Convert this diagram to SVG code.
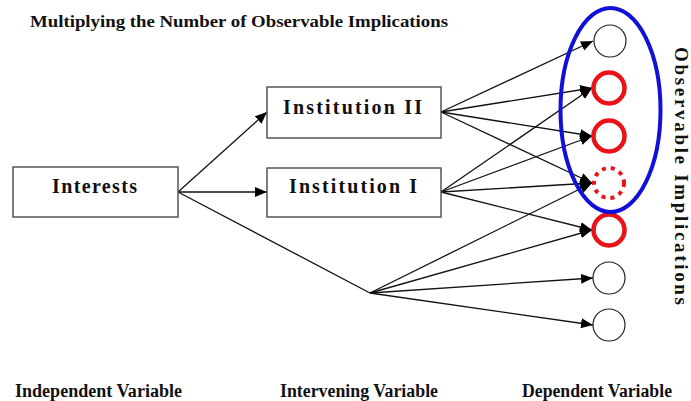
<svg xmlns="http://www.w3.org/2000/svg" width="691" height="401" viewBox="0 0 691 401">
<style>
.t{font-family:"Liberation Serif","Times New Roman",serif;font-weight:bold;fill:#111}
.box{fill:#fff;stroke:#555;stroke-width:1.5}
.ln{stroke:#111;stroke-width:1.3;fill:none}
.a{marker-end:url(#ah)}
.wc{fill:#fff;stroke:#222;stroke-width:1.2}
.rc{fill:#fff;stroke:#e8141a;stroke-width:4.5}
</style>
<defs>
<marker id="ah" markerUnits="userSpaceOnUse" markerWidth="13" markerHeight="11" refX="12" refY="5.5" orient="auto">
<path d="M0,0.5 L12,5.5 L0,10.5 Z" fill="#000"/>
</marker>
</defs>
<rect width="691" height="401" fill="#fff"/>
<text class="t" x="30" y="27" font-size="17.5" textLength="418" lengthAdjust="spacingAndGlyphs">Multiplying the Number of Observable Implications</text>
<g id="connectors">
<line class="ln a" x1="178" y1="192" x2="267" y2="112"/>
<line class="ln a" x1="178" y1="192" x2="267" y2="192"/>
<line class="ln" x1="178" y1="192" x2="370" y2="293"/>
<line class="ln a" x1="441" y1="112" x2="593" y2="41"/>
<line class="ln a" x1="441" y1="112" x2="592" y2="88"/>
<line class="ln a" x1="441" y1="112" x2="592" y2="136"/>
<line class="ln a" x1="441" y1="112" x2="592" y2="183"/>
<line class="ln a" x1="441" y1="192" x2="592" y2="88"/>
<line class="ln a" x1="441" y1="192" x2="592" y2="136"/>
<line class="ln a" x1="441" y1="192" x2="592" y2="183"/>
<line class="ln a" x1="441" y1="192" x2="592" y2="230"/>
<line class="ln a" x1="370" y1="293" x2="592" y2="183"/>
<line class="ln a" x1="370" y1="293" x2="592" y2="230"/>
<line class="ln a" x1="370" y1="293" x2="593" y2="278"/>
<line class="ln a" x1="370" y1="293" x2="593" y2="325"/>
</g>
<g id="interests">
<rect class="box" x="13" y="167" width="165" height="50"/>
<text class="t" x="52" y="193" font-size="20" textLength="85" lengthAdjust="spacing">Interests</text>
</g>
<g id="institution2">
<rect class="box" x="267" y="87" width="174" height="51"/>
<text class="t" x="283" y="114" font-size="20" textLength="139" lengthAdjust="spacing">Institution II</text>
</g>
<g id="institution1">
<rect class="box" x="267" y="168" width="174" height="49"/>
<text class="t" x="289" y="193" font-size="20" textLength="128" lengthAdjust="spacing">Institution I</text>
</g>
<g id="oi1"><circle class="wc" cx="610" cy="41" r="16"/></g>
<g id="oi2"><circle class="rc" cx="609" cy="88" r="15.5"/></g>
<g id="oi3"><circle class="rc" cx="609" cy="136" r="15.5"/></g>
<g id="oi4"><circle cx="609" cy="183" r="15" fill="#fff" stroke="#e8141a" stroke-width="4" stroke-dasharray="4,5"/></g>
<g id="oi5"><circle class="rc" cx="609" cy="230" r="15.5"/></g>
<g id="oi6"><circle class="wc" cx="609" cy="278" r="16"/></g>
<g id="oi7"><circle class="wc" cx="609" cy="325" r="16"/></g>
<g id="observable">
<ellipse cx="610.5" cy="110" rx="50" ry="102" fill="none" stroke="#1010d8" stroke-width="4"/>
<text class="t" transform="translate(675,47) rotate(90)" x="0" y="0" font-size="19" textLength="258" lengthAdjust="spacing">Observable Implications</text>
</g>
<text class="t" x="15" y="397" font-size="18" textLength="167" lengthAdjust="spacingAndGlyphs">Independent Variable</text>
<text class="t" x="280" y="397" font-size="18" textLength="158" lengthAdjust="spacingAndGlyphs">Intervening Variable</text>
<text class="t" x="522" y="397" font-size="18" textLength="150" lengthAdjust="spacingAndGlyphs">Dependent Variable</text>
</svg>
